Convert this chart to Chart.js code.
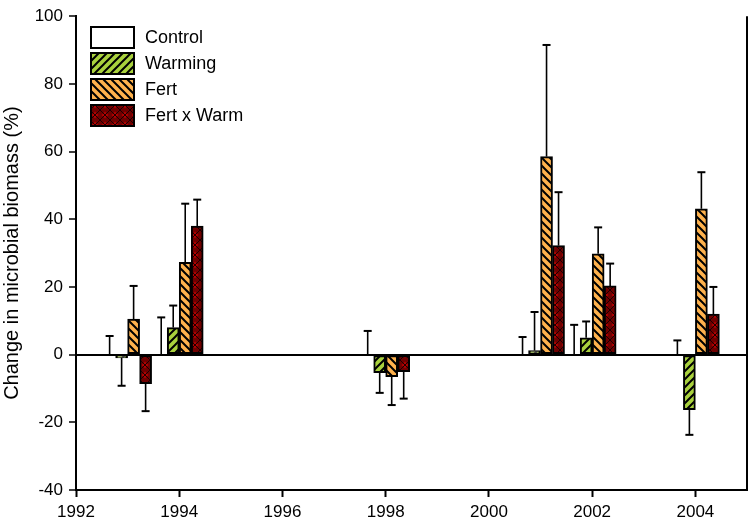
<!DOCTYPE html>
<html>
<head>
<meta charset="utf-8">
<script src="https://cdn.jsdelivr.net/npm/chart.js@4.4.1/dist/chart.umd.min.js"></script>
<style>
  body { margin: 0; background: #fff; }
  #wrap { width: 750px; height: 520px; }
</style>
</head>
<body>
<div id="wrap"><canvas id="biomassChart"></canvas></div>
<script>
// ==========================================
// MICROBIAL BIOMASS CHANGE (Chart.js)
// ==========================================

// data
const years = [1993, 1994, 1998, 2001, 2002, 2004];
const seriesNames = ['Control', 'Warming', 'Fert', 'Fert x Warm'];

const controlValues = [0, 0, 0, 0, 0, 0];
const controlErrors = [5.5, 11, 7, 5.2, 8.8, 4.2];

const warmingValues = [-1, 8, -5.3, 1.2, 5, -16.3];
const warmingErrors = [8.2, 6.5, 6, 11.4, 4.8, 7.4];

const fertValues = [10.5, 27.3, -6.5, 58.5, 29.8, 43.1];
const fertErrors = [9.8, 17.3, 8.4, 33, 7.8, 10.8];

const fxwValues = [-8.6, 38, -5, 32.2, 20.3, 12];
const fxwErrors = [8.1, 7.8, 8, 15.8, 6.6, 8];

const yTicks = [-40, -20, 0, 20, 40, 60, 80, 100];
const xTicks = [1992, 1994, 1996, 1998, 2000, 2002, 2004];

// hatch patterns
function makePattern(size, draw) {
  const c = document.createElement('canvas');
  c.width = size;
  c.height = size;
  draw(c.getContext('2d'));
  return c.getContext('2d').createPattern(c, 'repeat');
}

const warmingPattern = makePattern(8, function (g) {
  g.fillStyle = '#a9d13d';
  g.fillRect(0, 0, 8, 8);
  g.strokeStyle = '#000';
  g.lineWidth = 2;
  g.beginPath();
  g.moveTo(-1, 9); g.lineTo(9, -1);
  g.moveTo(-1, 1); g.lineTo(1, -1);
  g.moveTo(7, 9); g.lineTo(9, 7);
  g.stroke();
});

const fertPattern = makePattern(8, function (g) {
  g.fillStyle = '#ffb24d';
  g.fillRect(0, 0, 8, 8);
  g.strokeStyle = '#000';
  g.lineWidth = 2;
  g.beginPath();
  g.moveTo(-1, -1); g.lineTo(9, 9);
  g.moveTo(7, -1); g.lineTo(9, 1);
  g.moveTo(-1, 7); g.lineTo(1, 9);
  g.stroke();
});

const fxwPattern = makePattern(10, function (g) {
  g.fillStyle = '#6e0000';
  g.fillRect(0, 0, 10, 10);
  g.fillStyle = '#b20000';
  g.beginPath();
  g.moveTo(5, 1.5); g.lineTo(8.5, 5); g.lineTo(5, 8.5); g.lineTo(1.5, 5);
  g.closePath();
  g.fill();
  g.strokeStyle = '#1a0000';
  g.lineWidth = 1;
  g.beginPath();
  g.moveTo(0, 0); g.lineTo(10, 10);
  g.moveTo(10, 0); g.lineTo(0, 10);
  g.stroke();
});

const fills = ['#ffffff', warmingPattern, fertPattern, fxwPattern];
const valueSets = [controlValues, warmingValues, fertValues, fxwValues];
const errorSets = [controlErrors, warmingErrors, fertErrors, fxwErrors];

const biomassData = {
  datasets: seriesNames.map(function (name, i) {
    return {
      label: name,
      data: years.map(function (yr, j) { return { x: yr, y: valueSets[i][j] }; }),
      errors: errorSets[i],
      backgroundColor: fills[i],
      borderColor: '#000',
      borderWidth: 2,
      borderSkipped: false,
      barThickness: 12,
    };
  }),
};

// error bars (one sided, in the bar's direction)
const errorBarPlugin = {
  id: 'errorBars',
  afterDatasetsDraw: function (chart) {
    const ctx = chart.ctx;
    const yScale = chart.scales.y;
    ctx.save();
    ctx.strokeStyle = '#000';
    chart.data.datasets.forEach(function (ds, i) {
      const meta = chart.getDatasetMeta(i);
      meta.data.forEach(function (bar, j) {
        const v = ds.data[j].y;
        const dir = v < 0 ? -1 : 1;
        const yStart = yScale.getPixelForValue(v);
        const yEnd = yScale.getPixelForValue(v + dir * ds.errors[j]);
        ctx.lineWidth = 1.6;
        ctx.beginPath();
        ctx.moveTo(bar.x, yStart);
        ctx.lineTo(bar.x, yEnd);
        ctx.stroke();
        ctx.lineWidth = 2;
        ctx.beginPath();
        ctx.moveTo(bar.x - 4, yEnd);
        ctx.lineTo(bar.x + 4, yEnd);
        ctx.stroke();
      });
    });
    ctx.restore();
  },
};

// legend box in the top-left corner + right frame line
const framePlugin = {
  id: 'frameAndLegend',
  afterDraw: function (chart) {
    const ctx = chart.ctx;
    const area = chart.chartArea;
    ctx.save();
    ctx.strokeStyle = '#000';
    ctx.lineWidth = 2;
    ctx.beginPath();
    ctx.moveTo(area.right, area.top);
    ctx.lineTo(area.right, area.bottom);
    ctx.stroke();

    ctx.font = '18px "Liberation Sans", Arial, sans-serif';
    ctx.textBaseline = 'middle';
    seriesNames.forEach(function (name, i) {
      const bx = 91;
      const by = 27 + i * 26;
      ctx.fillStyle = fills[i];
      ctx.fillRect(bx, by, 43, 21);
      ctx.strokeRect(bx, by, 43, 21);
      ctx.fillStyle = '#000';
      ctx.fillText(name, 145, by + 11);
    });
    ctx.restore();
  },
};

const biomassConfig = {
  type: 'bar',
  data: biomassData,
  options: {
    responsive: true,
    maintainAspectRatio: false,
    animation: false,
    layout: { padding: { top: 5, right: 3, left: 0, bottom: 0 } },
    plugins: {
      legend: { display: false },
      tooltip: { enabled: false },
    },
    scales: {
      x: {
        type: 'linear',
        min: 1992,
        max: 2005,
        offset: false,
        afterBuildTicks: function (scale) {
          scale.ticks = xTicks.map(function (v) { return { value: v }; });
        },
        afterFit: function (scale) { scale.height = 30; },
        ticks: {
          color: '#000',
          padding: 5,
          maxRotation: 0,
          font: { size: 17, family: '"Liberation Sans", Arial, sans-serif' },
          callback: function (value) { return String(value); },
        },
        grid: {
          offset: false,
          drawOnChartArea: false,
          color: '#000',
          tickLength: 7,
          tickWidth: 2,
        },
        border: { color: '#000', width: 2 },
      },
      y: {
        min: -40,
        max: 100,
        afterBuildTicks: function (scale) {
          scale.ticks = yTicks.map(function (v) { return { value: v }; });
        },
        afterFit: function (scale) { scale.width = 76; },
        title: {
          display: true,
          text: 'Change in microbial biomass (%)',
          color: '#000',
          padding: { top: 0, bottom: 1 },
          font: { size: 20, family: '"Liberation Sans", Arial, sans-serif' },
        },
        ticks: {
          color: '#000',
          padding: 6,
          font: { size: 17, family: '"Liberation Sans", Arial, sans-serif' },
        },
        grid: {
          color: function (ctx) { return ctx.tick && ctx.tick.value === 0 ? '#000' : 'rgba(0,0,0,0)'; },
          lineWidth: 2,
          tickColor: '#000',
          tickLength: 7,
          tickWidth: 1.5,
        },
        border: { color: '#000', width: 2 },
      },
    },
  },
  plugins: [errorBarPlugin, framePlugin],
};

const biomassChart = new Chart(
  document.getElementById('biomassChart'),
  biomassConfig
);
</script>
</body>
</html>
